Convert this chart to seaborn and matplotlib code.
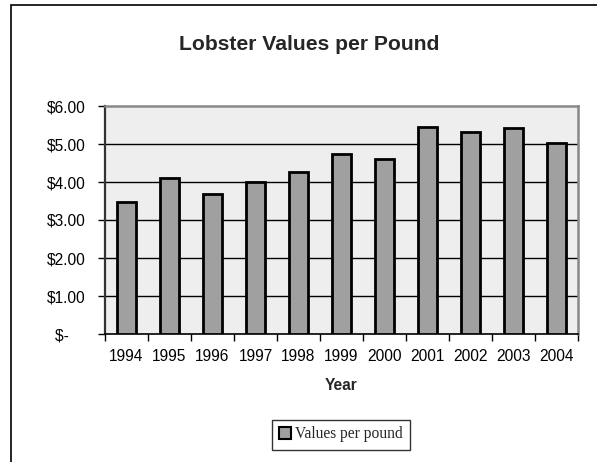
import matplotlib
matplotlib.use("Agg")
import matplotlib.pyplot as plt
from matplotlib.patches import Rectangle
from matplotlib.ticker import FixedLocator
import seaborn as sns
import pandas as pd

years = ["1994", "1995", "1996", "1997", "1998", "1999",
         "2000", "2001", "2002", "2003", "2004"]
values = [3.47, 4.10, 3.68, 4.00, 4.26, 4.73,
          4.60, 5.44, 5.31, 5.42, 5.03]
y_ticks = [0, 1, 2, 3, 4, 5, 6]
# accounting-style zero keeps trailing padding
y_tick_labels = ["$-    ", "$1.00", "$2.00", "$3.00", "$4.00", "$5.00", "$6.00"]
series_name = "Values per pound"

df = pd.DataFrame({"Year": years, "Value": values})

sns.set_theme(style="white")
plt.rcParams["font.family"] = ["Liberation Sans", "DejaVu Sans"]

W, H = 597, 462
fig = plt.figure(figsize=(W / 100, H / 100), dpi=100)
fig.patch.set_facecolor("white")

# outer chart frame (runs off the right and bottom edges)
fig.patches.append(Rectangle((11 / W, -1), 3, 2 - 5 / H, transform=fig.transFigure,
                             fill=False, edgecolor="black", linewidth=1.2))

ax = fig.add_axes([105 / W, 1 - 334 / H, (578 - 105) / W, (334 - 106) / H])
ax.set_facecolor("#EEEEEE")

sns.barplot(data=df, x="Year", y="Value", color="#A0A0A0", saturation=1,
            edgecolor="black", linewidth=2.0, width=0.44, ax=ax, zorder=3)

ax.set_ylim(0, 6)
ax.set_xlim(-0.5, len(years) - 0.5)
ax.set_yticks(y_ticks)
ax.set_yticklabels(y_tick_labels, fontsize=11.2, color="black")
ax.grid(False)
for v in y_ticks[1:-1]:
    ax.axhline(v, color="black", linewidth=1.0, zorder=1)

ax.xaxis.set_minor_locator(FixedLocator([i - 0.5 for i in range(len(years) + 1)]))
ax.tick_params(axis="x", which="major", length=0, pad=11, labelsize=11.2,
               labelcolor="black")
ax.tick_params(axis="x", which="minor", bottom=True, length=5, width=1,
               color="black", direction="out")
ax.tick_params(axis="y", which="major", left=True, length=5, width=1,
               color="black", direction="out", pad=9)

ax.set_xlabel("")
ax.set_ylabel("")

ax.spines["left"].set_color("#333333")
ax.spines["left"].set_linewidth(1.6)
ax.spines["bottom"].set_color("black")
ax.spines["bottom"].set_linewidth(1.2)
for s in ("top", "right"):
    ax.spines[s].set_visible(True)
    ax.spines[s].set_color("#888888")
    ax.spines[s].set_linewidth(1.8)

fig.text(309 / W, 1 - 44 / H, "Lobster Values per Pound", ha="center",
         va="center", fontsize=15.2, fontweight="bold")
fig.text(341 / W, 1 - 385 / H, "Year", ha="center", va="center",
         fontsize=11.2, fontweight="bold")

handle = Rectangle((0, 0), 1, 1, facecolor="#A0A0A0", edgecolor="black",
                   linewidth=1.5)
leg = fig.legend([handle], [series_name], loc="center",
                 bbox_to_anchor=(341 / W, 1 - 434.5 / H),
                 prop={"family": "Liberation Serif", "size": 11.2},
                 frameon=True, fancybox=False, handlelength=0.75,
                 handleheight=0.75, handletextpad=0.3, borderpad=0.45,
                 borderaxespad=0)
leg.get_frame().set_edgecolor("black")
leg.get_frame().set_linewidth(1.0)

fig.savefig("out.png", dpi=100)
